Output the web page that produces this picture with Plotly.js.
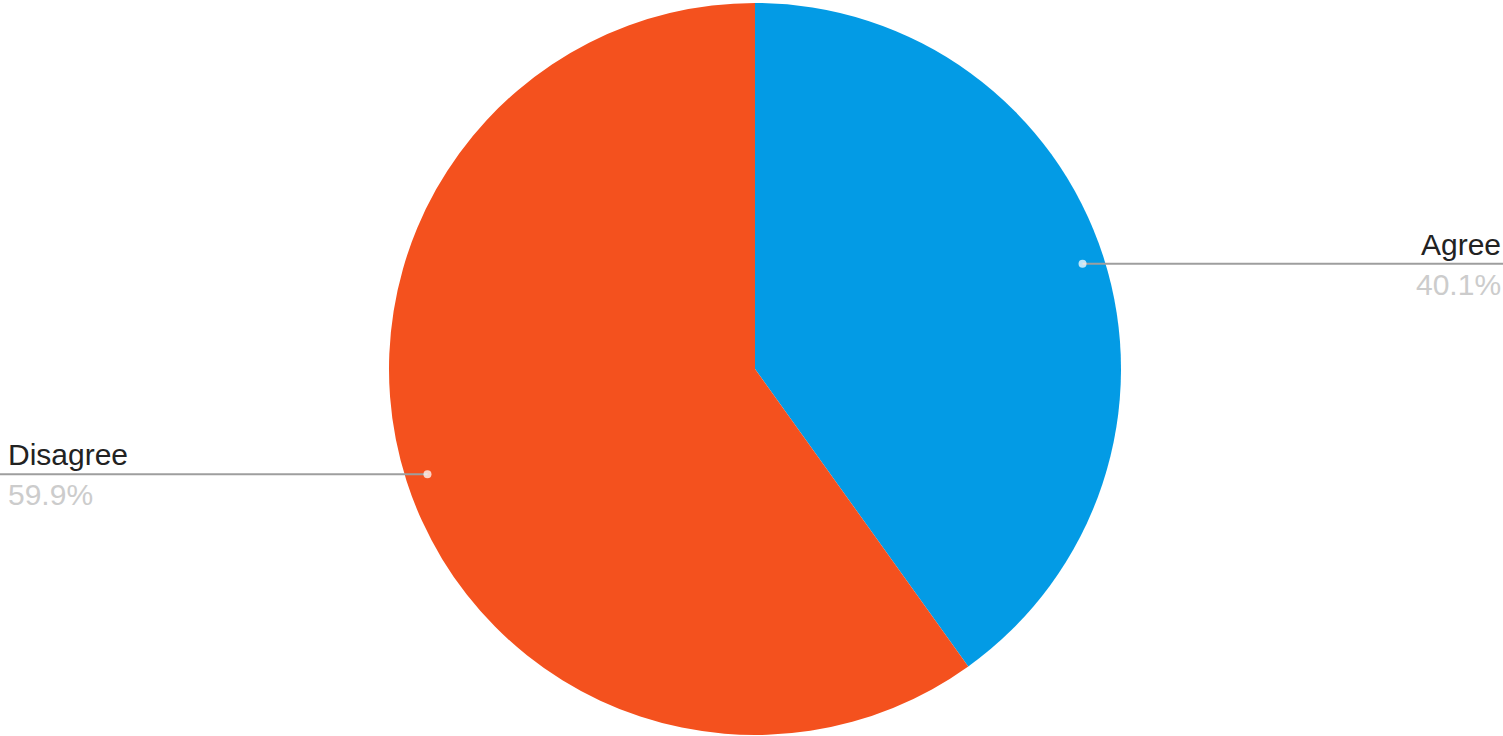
<!DOCTYPE html>
<html>
<head>
<meta charset="utf-8">
<script src="https://cdn.plot.ly/plotly-3.0.1.min.js"></script>
<style>html,body{margin:0;padding:0;background:#fff;}#chart{width:1503px;height:736px;}</style>
</head>
<body>
<div id="chart"></div>
<script>
const labels = ["Agree", "Disagree"];
const values = [40.1, 59.9];
const colors = ["#039BE5", "#F4511E"];

const W = 1503, H = 736;
const cx = 755, cy = 369, R = 366;
const domX = [(cx - R) / W, (cx + R) / W];
const domY = [1 - (cy + R) / H, 1 - (cy - R) / H];

const total = values.reduce((a, b) => a + b, 0);
const shapes = [];
const annotations = [];
let cum = 0;
values.forEach((v, i) => {
  const mid = (cum + v / 2) / total * 2 * Math.PI;
  cum += v;
  const px = cx + 0.94 * R * Math.sin(mid);
  const py = cy - 0.94 * R * Math.cos(mid);
  const right = Math.sin(mid) > 0;
  const xEnd = right ? W : 0;
  shapes.push({type: 'line', xref: 'paper', yref: 'paper',
    x0: px / W, x1: xEnd / W, y0: 1 - py / H, y1: 1 - py / H,
    line: {color: '#9e9e9e', width: 2}});
  shapes.push({type: 'circle', xref: 'paper', yref: 'paper',
    x0: (px - 4) / W, x1: (px + 4) / W, y0: 1 - (py + 4) / H, y1: 1 - (py - 4) / H,
    fillcolor: 'rgba(255,255,255,0.75)', line: {width: 0}});
  const lx = right ? 1 : 6 / W;
  annotations.push({xref: 'paper', yref: 'paper', x: lx, y: 1 - py / H,
    xanchor: right ? 'right' : 'left', yanchor: 'bottom', yshift: 1, showarrow: false,
    text: labels[i], font: {family: 'Liberation Sans, Arial, sans-serif', size: 30, color: '#222222'}});
  annotations.push({xref: 'paper', yref: 'paper', x: lx, y: 1 - py / H,
    xanchor: right ? 'right' : 'left', yanchor: 'top', yshift: -2, showarrow: false,
    text: (v / total * 100).toFixed(1) + '%', font: {family: 'Liberation Sans, Arial, sans-serif', size: 30, color: '#cccccc'}});
});

Plotly.newPlot('chart', [{
  type: 'pie', labels: labels, values: values, sort: false, direction: 'clockwise', rotation: 0,
  marker: {colors: colors, line: {width: 0}}, textinfo: 'none', hoverinfo: 'label+percent',
  domain: {x: domX, y: domY}
}], {
  width: W, height: H, margin: {l: 0, r: 0, t: 0, b: 0}, showlegend: false,
  paper_bgcolor: '#ffffff', shapes: shapes, annotations: annotations
}, {displayModeBar: false, staticPlot: true});
</script>
</body>
</html>
